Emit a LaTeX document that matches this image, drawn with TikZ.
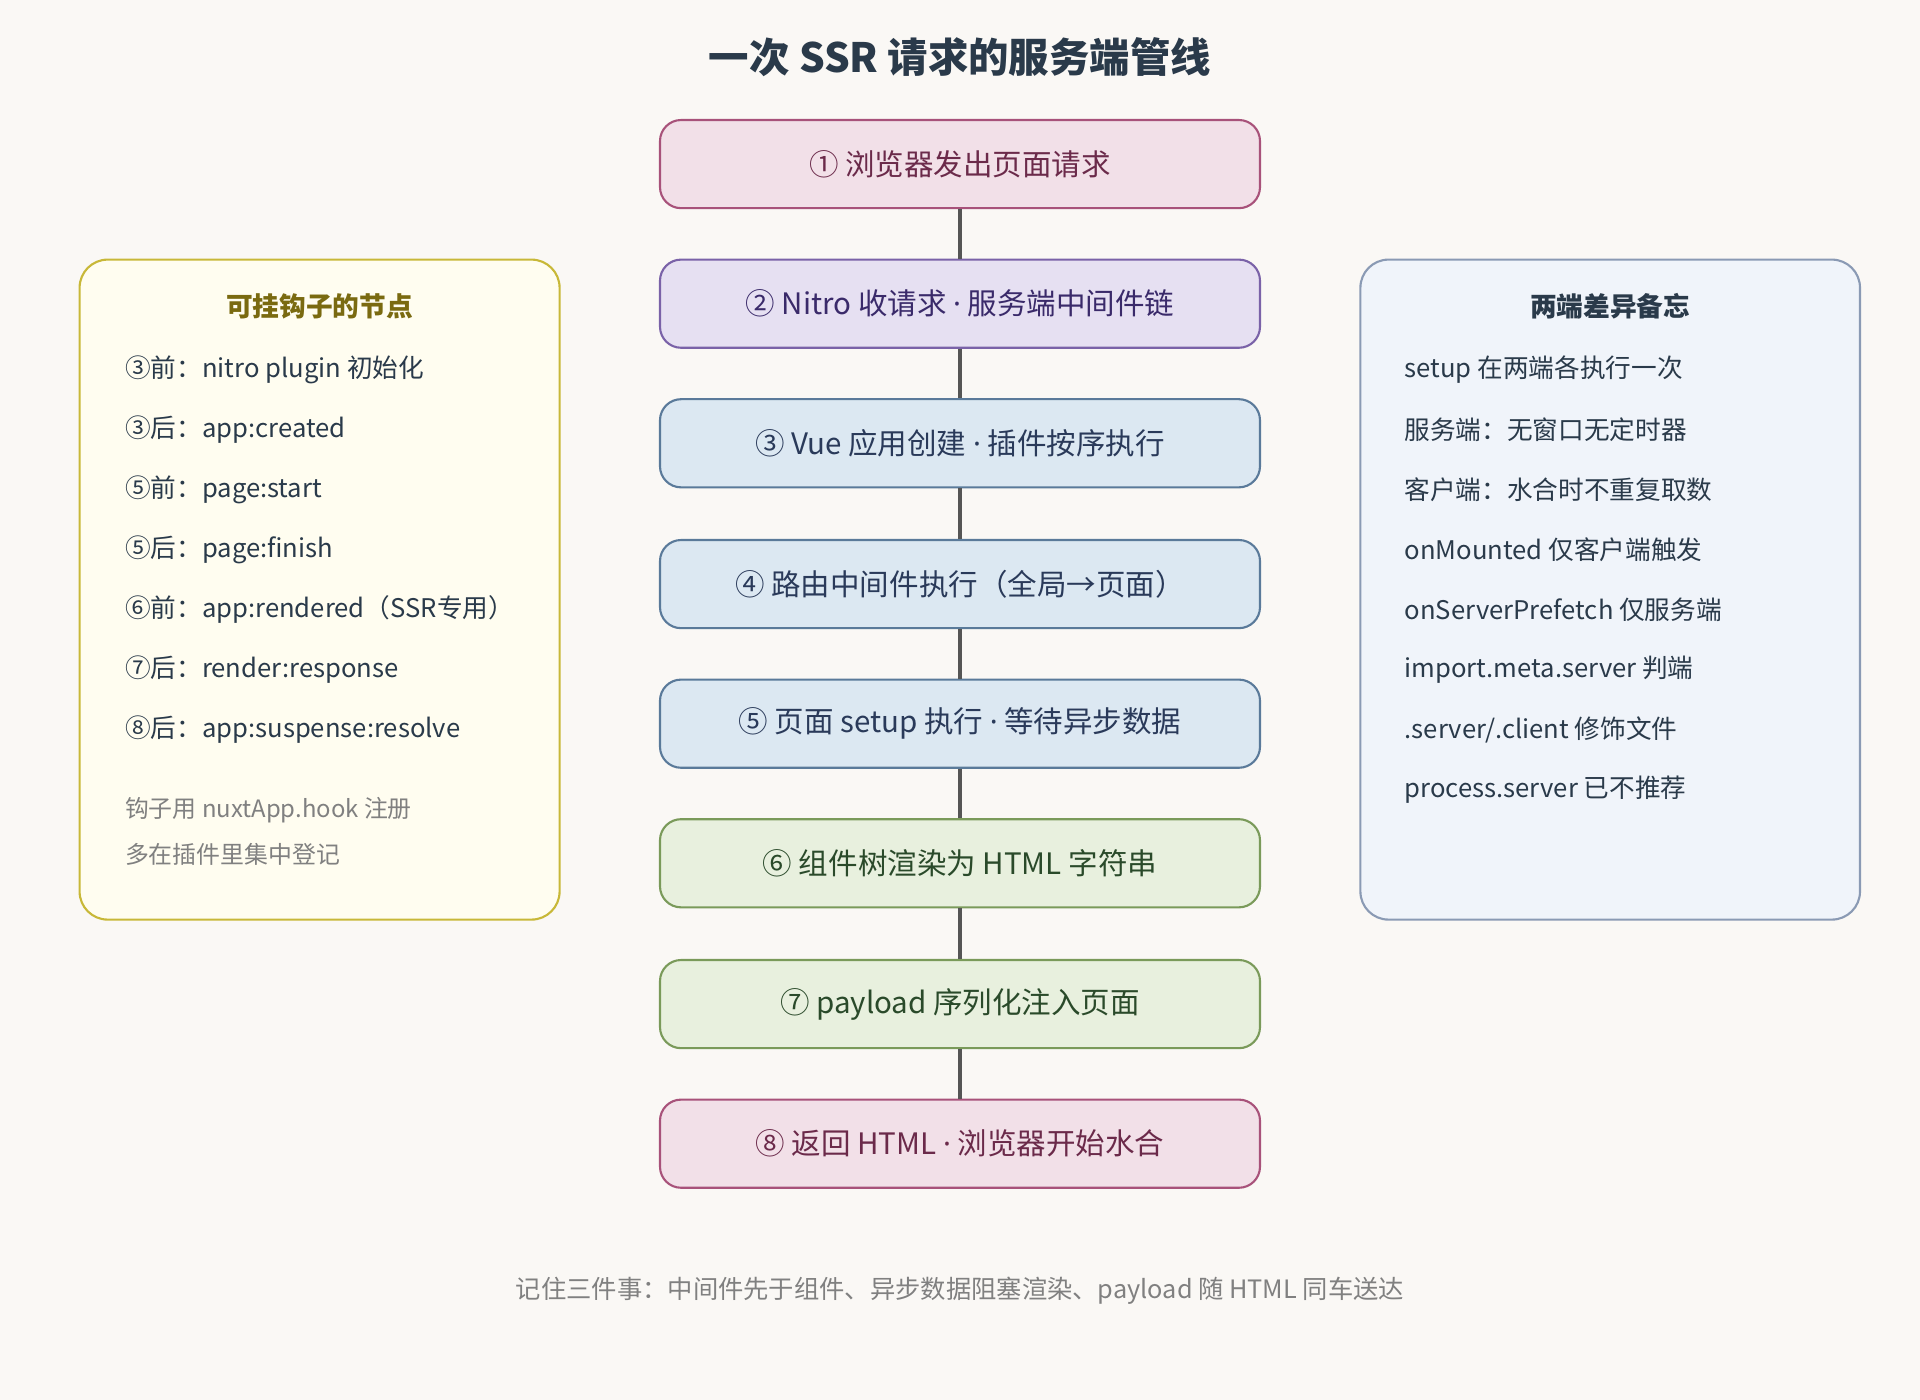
\documentclass[tikz,border=0pt]{standalone}
\usepackage{fontspec}
\setmainfont{Noto Sans CJK SC}
\newfontfamily\latinfont{Noto Sans}
\newcommand{\mdot}{{\latinfont ·}}
\usetikzlibrary{positioning}
\definecolor{bgc}{HTML}{FAF8F5}
\definecolor{pinkf}{HTML}{F2E0E8}\definecolor{pinkd}{HTML}{A8527A}\definecolor{pinkt}{HTML}{6B2A4A}
\definecolor{purf}{HTML}{E6E0F2}\definecolor{purd}{HTML}{7A62A8}\definecolor{purt}{HTML}{3A2A6A}
\definecolor{bluf}{HTML}{DCE8F2}\definecolor{blud}{HTML}{5A7A9A}\definecolor{blut}{HTML}{2A3A5A}
\definecolor{grnf}{HTML}{E8F0DE}\definecolor{grnd}{HTML}{7A9A5A}\definecolor{grnt}{HTML}{2A4A2A}
\definecolor{hookf}{HTML}{FFFDF0}\definecolor{hookd}{HTML}{C8B838}\definecolor{hookt}{HTML}{7A6A10}
\definecolor{notef}{HTML}{F0F4FA}\definecolor{noted}{HTML}{8A9AB4}\definecolor{notet}{HTML}{2A3A4A}
\definecolor{linec}{HTML}{555555}
\tikzset{
  stage/.style={draw, rounded corners=6pt, line width=0.6pt, minimum width=490*0.12245mm,
    minimum height=72*0.12245mm, font=\fontsize{8.4}{10}\selectfont},
  pinkstage/.style={stage, fill=pinkf, draw=pinkd, text=pinkt},
  purstage/.style={stage, fill=purf, draw=purd, text=purt},
  blustage/.style={stage, fill=bluf, draw=blud, text=blut},
  grnstage/.style={stage, fill=grnf, draw=grnd, text=grnt},
  item/.style={anchor=west, font=\fontsize{7.3}{8}\selectfont, text=#1},
  tip/.style={anchor=west, font=\fontsize{6.8}{8}\selectfont, text=gray}
}
\begin{document}
\begin{tikzpicture}[x=0.12245mm, y=-0.12245mm]
\fill[bgc] (0,0) rectangle (1568,1143);
\useasboundingbox (0,0) rectangle (1568,1143);
\node[font=\bfseries\fontsize{11.5}{13}\selectfont, text=notet] (title) at (784,47) {一次 SSR 请求的服务端管线};
% pipeline
\node[pinkstage] (s1) at (784,134) {① 浏览器发出页面请求};
\node[purstage] (s2) at (784,248) {② Nitro 收请求 \mdot{} 服务端中间件链};
\node[blustage] (s3) at (784,362) {③ Vue 应用创建 \mdot{} 插件按序执行};
\node[blustage] (s4) at (784,477) {④ 路由中间件执行（全局→页面）};
\node[blustage] (s5) at (784,591) {⑤ 页面 setup 执行 \mdot{} 等待异步数据};
\node[grnstage] (s6) at (784,705) {⑥ 组件树渲染为 HTML 字符串};
\node[grnstage] (s7) at (784,820) {⑦ payload 序列化注入页面};
\node[pinkstage] (s8) at (784,934) {⑧ 返回 HTML \mdot{} 浏览器开始水合};
\foreach \a/\b in {s1/s2,s2/s3,s3/s4,s4/s5,s5/s6,s6/s7,s7/s8}
  \draw[linec, line width=1.2pt] (\a) -- (\b);
% hooks
\draw[hookd, fill=hookf, rounded corners=8pt, line width=0.6pt] (65,212) rectangle (457,751);
\node[font=\bfseries\fontsize{7.6}{9}\selectfont, text=hookt] (hooks) at (261,250) {可挂钩子的节点};
\foreach \t [count=\i from 0] in {③前：nitro plugin 初始化,③后：app:created,⑤前：page:start,⑤后：page:finish,⑥前：app:rendered（SSR专用）,⑦后：render:response,⑧后：app:suspense:resolve}
  \node[item=notet] (h\i) at (92,302+49*\i) {\t};
\node[tip] (ht1) at (92,662) {钩子用 nuxtApp.hook 注册};
\node[tip] (ht2) at (92,698) {多在插件里集中登记};
% notes
\draw[noted, fill=notef, rounded corners=8pt, line width=0.6pt] (1111,212) rectangle (1519,751);
\node[font=\bfseries\fontsize{7.6}{9}\selectfont, text=notet] (memo) at (1315,250) {两端差异备忘};
\foreach \t [count=\i from 0] in {setup 在两端各执行一次,服务端：无窗口无定时器,客户端：水合时不重复取数,onMounted 仅客户端触发,onServerPrefetch 仅服务端,import.meta.server 判端,.server/.client 修饰文件,process.server 已不推荐}
  \node[item=notet] (n\i) at (1137,302+49*\i) {\t};
\node[font=\fontsize{7.2}{8}\selectfont, text=gray] (foot) at (784,1054) {记住三件事：中间件先于组件、异步数据阻塞渲染、payload 随 HTML 同车送达};
\end{tikzpicture}
\end{document}
